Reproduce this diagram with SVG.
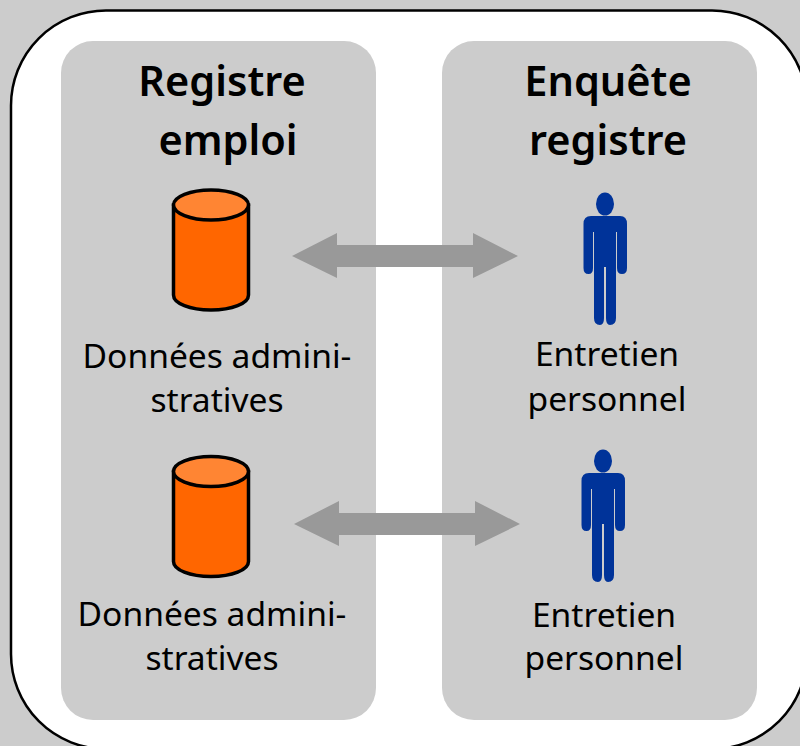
<svg xmlns="http://www.w3.org/2000/svg" width="800" height="746" viewBox="0 0 800 746">
<style>
text{font-family:"Noto Sans","Open Sans","DejaVu Sans",sans-serif;fill:#000;text-anchor:middle}
.h{font-size:41.500px;font-weight:600}
.t{font-size:33.600px}
.panel{fill:#ccc}
.top{fill:#ff8533;stroke:#000;stroke-width:3.500}
.body{fill:#f60;stroke:#000;stroke-width:3.500}
.p{fill:#039}
.a{fill:#999}
</style>
<defs>
<g id="cyl">
<path class="body" d="M173.500 205V295C173.500 303.500 190 310 211 310S248.500 303.500 248.500 295V205Z"/>
<ellipse class="top" cx="211" cy="205" rx="37.500" ry="15"/>
</g>
<g id="man">
<ellipse class="p" cx="605" cy="204" rx="9" ry="11.500"/>
<path class="p" d="M591 216H620Q627 216 627 224V268Q627 274 622 274Q617 274 617 268V232H616V318Q616 325 610 325Q606 325 606 318V267H604V318Q604 325 600 325Q594 325 594 318V232H593V268Q593 274 588.500 274Q583.500 274 583.500 268V224Q583.500 216 591 216Z"/>
</g>
<path id="arr" class="a" d="M292 256L337 233V245H473V233L518 256L473 278V267H337V278Z"/>
</defs>
<rect width="800" height="746" fill="#ccc"/>
<rect x="11" y="10.500" width="796" height="738.500" rx="95" ry="95" fill="#fff" stroke="#000" stroke-width="2.500"/>
<rect class="panel" x="61" y="41" width="315" height="679" rx="32"/>
<rect class="panel" x="442" y="41" width="315" height="679" rx="32"/>
<g id="connectors">
<use href="#arr"/>
<use href="#arr" x="2" y="268"/>
</g>
<g id="registre-emploi"><text class="h" x="222" y="96">Registre</text><text class="h" x="228" y="155">emploi</text></g>
<g id="enquete-registre"><text class="h" x="608" y="96">Enquête</text><text class="h" x="608" y="155">registre</text></g>
<g id="donnees-1"><use href="#cyl"/><text class="t" x="217" y="368">Données admini-</text><text class="t" x="217" y="412">stratives</text></g>
<g id="donnees-2"><use href="#cyl" y="266.500"/><text class="t" x="212" y="626">Données admini-</text><text class="t" x="212" y="670">stratives</text></g>
<g id="entretien-1"><use href="#man"/><text class="t" x="607" y="366">Entretien</text><text class="t" x="607" y="411">personnel</text></g>
<g id="entretien-2"><use href="#man" x="-2" y="257"/><text class="t" x="604" y="627">Entretien</text><text class="t" x="604" y="670">personnel</text></g>
</svg>
